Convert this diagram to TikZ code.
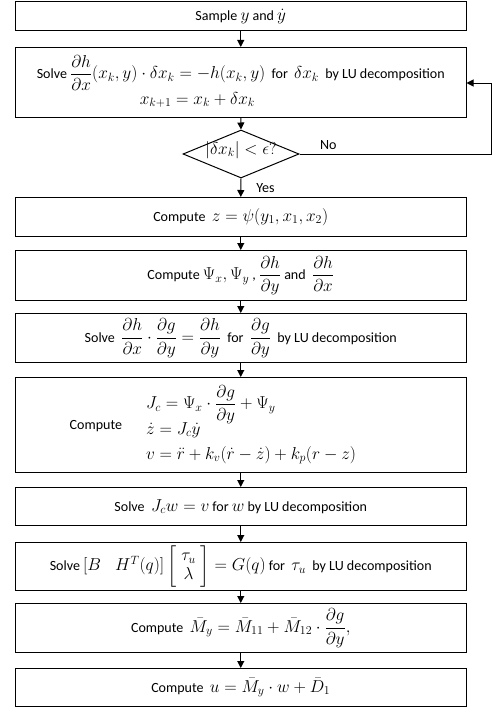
\documentclass[tikz,border=0pt]{standalone}
\usepackage{amsmath}
\usepackage{fontspec}
\setmainfont{Carlito}[Scale=0.85]
\usetikzlibrary{shapes.geometric,arrows.meta}
\begin{document}
\begin{tikzpicture}[x=1pt,y=-1pt,
  box/.style={draw,line width=1pt,minimum width=450.5pt,inner sep=0pt,anchor=north,font=\fontsize{16.5}{19}\selectfont},
  arr/.style={-{Triangle[length=7pt,width=7pt]},line width=1pt},
  lbl/.style={font=\fontsize{16.5}{19}\selectfont,inner sep=0pt}]
\useasboundingbox (0,0) rectangle (494,709);
\node[box,minimum height=28.5pt] (b1) at (240.75,1.5) {Sample $y$ and $\dot{y}$};
\node[box,minimum height=70pt] (b2) at (240.75,47) {\begin{tabular}{@{}l@{}}Solve $\dfrac{\partial h}{\partial x}(x_k,y)\cdot\delta x_k=-h(x_k,y)$\ \ for\ \ $\delta x_k$\ \ by LU decomposition\\[2pt]
\hspace{103pt}$x_{k+1}=x_k+\delta x_k$\end{tabular}};
\node[diamond,draw,line width=1pt,minimum width=116pt,minimum height=48pt,inner sep=0pt,lbl] (d) at (241,154) {\makebox[0pt]{\smash{$|\delta x_k|<\epsilon?$}}};
\node[box,minimum height=39pt] (b3) at (240.75,197) {Compute\ \ $z=\psi(y_1,x_1,x_2)$};
\node[box,minimum height=50pt] (b4) at (240.75,250) {Compute $\Psi_x,\Psi_y$ , $\dfrac{\partial h}{\partial y}$ and\ \ $\dfrac{\partial h}{\partial x}$};
\node[box,minimum height=49pt] (b5) at (240.75,313) {Solve\ \ $\dfrac{\partial h}{\partial x}\cdot\dfrac{\partial g}{\partial y}=\dfrac{\partial h}{\partial y}$\ \ for\ \ $\dfrac{\partial g}{\partial y}$\ \ by LU decomposition};
\node[box,minimum height=95pt] (b6) at (240.75,377) {\makebox[450pt][l]{\hspace{54pt}Compute\hspace{24pt}$\begin{array}{@{}l@{}}J_c=\Psi_x\cdot\dfrac{\partial g}{\partial y}+\Psi_y\\[-3pt] \dot{z}=J_c\dot{y}\\[6pt] v=\ddot{r}+k_v(\dot{r}-\dot{z})+k_p(r-z)\end{array}$}};
\node[box,minimum height=38pt] (b7) at (240.75,487) {Solve\ \ $J_cw=v$ for $w$ by LU decomposition};
\node[box,minimum height=48pt] (b8) at (240.75,542) {Solve $[B\quad H^T(q)]\left[\begin{array}{c}\tau_u\\ \lambda\end{array}\right]=G(q)$ for\ \ $\tau_u$\ \ by LU decomposition};
\node[box,minimum height=49pt] (b9) at (240.75,603) {Compute\ \ $\bar{M}_y=\bar{M}_{11}+\bar{M}_{12}\cdot\dfrac{\partial g}{\partial y},$};
\node[box,minimum height=38pt] (b10) at (240.75,668) {Compute\ \ $u=\bar{M}_y\cdot w+\bar{D}_1$};
\coordinate (c1) at (491,154);
\coordinate (c2) at (491,83);
\draw[arr] (b1.south) -- (b2.north);
\draw[arr] (b2.south) -- (d.north);
\draw[arr] (d.south) -- node[lbl,right=15pt,pos=0.5]{Yes} (b3.north);
\draw[arr] (b3.south) -- (b4.north);
\draw[arr] (b4.south) -- (b5.north);
\draw[arr] (b5.south) -- (b6.north);
\draw[arr] (b6.south) -- (b7.north);
\draw[arr] (b7.south) -- (b8.north);
\draw[arr] (b8.south) -- (b9.north);
\draw[arr] (b9.south) -- (b10.north);
\draw[arr] (d.east) -- node[lbl,above=4pt,pos=0.15]{No} (c1) -- (c2) -- (b2.east |- c2);
\end{tikzpicture}
\end{document}
